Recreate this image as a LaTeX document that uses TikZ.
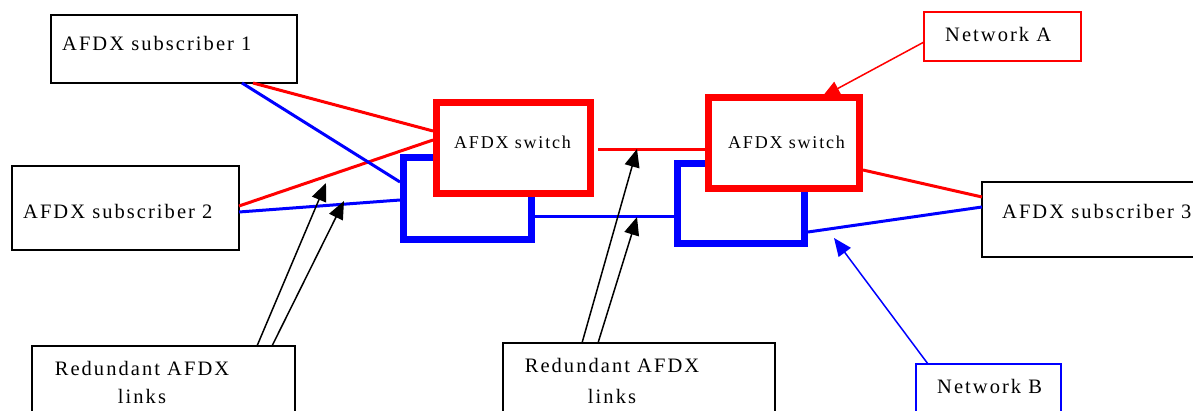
\documentclass[tikz,border=0pt]{standalone}
\usepackage{fontspec}
\setmainfont{Liberation Serif}[LetterSpace=10]
\usetikzlibrary{arrows.meta}

\begin{document}
\begin{tikzpicture}[x=1pt, y=-1pt,
    box/.style={draw, line width=1.5pt, outer sep=0pt, inner sep=0pt},
    swbox/.style={draw=red, fill=white, line width=7pt, inner sep=0pt},
    bluebox/.style={draw=blue, line width=7pt, inner sep=0pt},
    txt/.style={inner sep=0pt, anchor=base west, font=\fontsize{20.5pt}{24pt}\selectfont},
    link/.style={line width=3pt},
    ptr/.style={line width=1.5pt, -{Triangle[length=18pt,width=15pt]}}]
    \useasboundingbox (0,0) rectangle (1193,410);

    % subscribers
    \node[box, minimum width=246pt, minimum height=68pt] (sub1) at (174,49) {};
    \node[txt] (sub1txt) at (62,50) {AFDX subscriber 1};
    \node[box, minimum width=227pt, minimum height=84pt] (sub2) at (125.5,208) {};
    \node[txt] (sub2txt) at (23,218) {AFDX subscriber 2};
    \node[box, minimum width=233pt, minimum height=75pt] (sub3) at (1098.5,219.5) {};
    \node[txt] (sub3txt) at (1002,218) {AFDX subscriber 3};

    % switches (blue behind red)
    \node[bluebox, minimum width=128pt, minimum height=82pt] (bl1) at (467.5,198.5) {};
    \node[bluebox, minimum width=127pt, minimum height=80pt] (bl2) at (741,203.5) {};
    \node[swbox, minimum width=154pt, minimum height=91pt] (sw1) at (513.5,148) {};
    \node[txt, font=\fontsize{18pt}{22pt}\selectfont] (sw1txt) at (454,148) {AFDX switch};
    \node[swbox, minimum width=151pt, minimum height=91pt] (sw2) at (784,143) {};
    \node[txt, font=\fontsize{18pt}{22pt}\selectfont] (sw2txt) at (728,148) {AFDX switch};

    % callouts
    \node[box, draw=red, minimum width=157pt, minimum height=49pt] (netA) at (1002.5,36.5) {};
    \node[txt] (netAtxt) at (945,41) {Network A};
    \node[box, draw=blue, minimum width=145pt, minimum height=76pt] (netB) at (988.5,402) {};
    \node[txt] (netBtxt) at (937,393) {Network B};
    \node[box, minimum width=263pt, minimum height=94pt] (rd1) at (163.5,393) {};
    \node[txt, anchor=north, align=center, font=\fontsize{20.5pt}{28pt}\selectfont] (rd1txt) at (142,361.3) {Redundant AFDX\\links};
    \node[box, minimum width=272pt, minimum height=97pt] (rd2) at (639,391.5) {};
    \node[txt, anchor=north, align=center, font=\fontsize{20.5pt}{31pt}\selectfont] (rd2txt) at (612,358.3) {Redundant AFDX\\links};

    % network A links
    \draw[red, link] ([xshift=-44pt]sub1.south east) -- ([yshift=17pt]sw1.west);
    \draw[red, link] ([yshift=2pt]sub2.east) -- ([yshift=8pt]sw1.west);
    \draw[red, link] ([xshift=4pt,yshift=-1pt]sw1.east) -- ([yshift=-6pt]sw2.west);
    \draw[red, link] ([yshift=-27pt]sw2.east) -- ([yshift=22.5pt]sub3.west);

    % network B links
    \draw[blue, link] ([xshift=-55pt]sub1.south east) -- ([yshift=16.5pt]bl1.west);
    \draw[blue, link] ([yshift=-4pt]sub2.east) -- ([yshift=-1.5pt]bl1.west);
    \draw[blue, link] ([yshift=-17.5pt]bl1.east) -- ([yshift=-12.5pt]bl2.west);
    \draw[blue, link] ([yshift=-28.5pt]bl2.east) -- ([yshift=12.5pt]sub3.west);

    % pointers
    \coordinate (tip1) at (326,183);
    \coordinate (tip2) at (344,201);
    \coordinate (tip3) at (637,149);
    \coordinate (tip4) at (637,217);
    \coordinate (tipB) at (834,238);
    \draw[ptr] ([xshift=225pt]rd1.north west) -- (tip1);
    \draw[ptr] ([xshift=240pt]rd1.north west) -- (tip2);
    \draw[ptr] ([xshift=79pt]rd2.north west) -- (tip3);
    \draw[ptr] ([xshift=95pt]rd2.north west) -- (tip4);
    \draw[ptr, red] ([yshift=-5.5pt]netA.west) -- ([xshift=38pt,yshift=-3pt]sw2.north);
    \draw[ptr, blue] ([xshift=12pt]netB.north west) -- (tipB);
\end{tikzpicture}
\end{document}
